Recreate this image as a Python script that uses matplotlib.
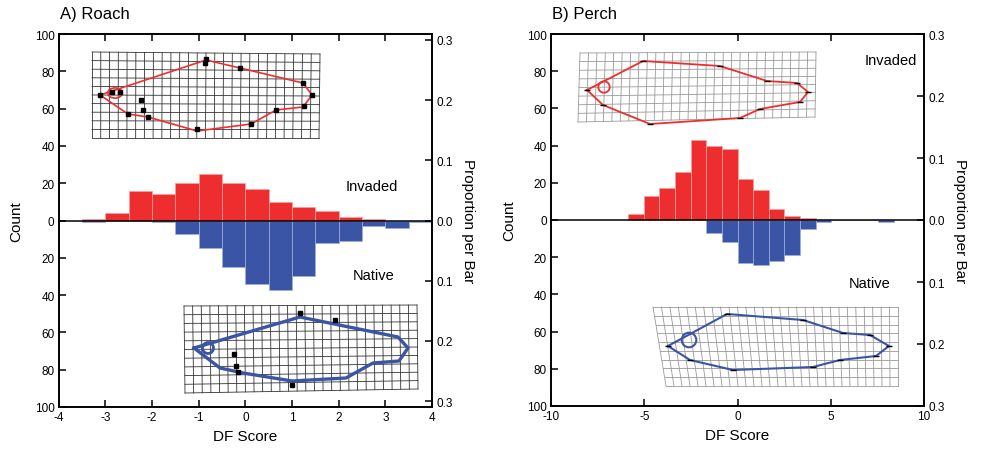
import matplotlib
matplotlib.use("Agg")
import matplotlib.pyplot as plt
import numpy as np

plt.rcParams['font.family'] = ['Liberation Sans', 'DejaVu Sans']

# ---------------- data ----------------
# Roach: bins of width 0.5 starting at -3.5
roach_bin_width = 0.5
roach_invaded_start = -3.5
roach_invaded = [1, 4, 16, 14, 20, 25, 20, 17, 10, 7, 5, 2, 1]
roach_native_start = -3.5
roach_native = [1, 0, 0, 1, 7, 15, 25, 34, 37, 30, 12, 11, 3, 4, 1]

# Perch: bins of width 0.84 with an edge at 0
perch_bin_width = 0.84
perch_invaded_start = -5.88
perch_invaded = [3, 13, 17, 26, 43, 40, 38, 22, 16, 6, 2, 1]
perch_native_start = -1.68
perch_native = [7, 12, 23, 24, 22, 19, 5, 1, 0, 0, 0, 1]

count_ticks = [-100, -80, -60, -40, -20, 0, 20, 40, 60, 80, 100]
prop_ticks = [-0.3, -0.2, -0.1, 0.0, 0.1, 0.2, 0.3]

# Deformation-grid illustrations (figure pixel coordinates)
# corners: TL, TR, BL, BR ; ncols, nrows
roach_top_grid = dict(corners=[(92, 53), (320, 55), (92, 139), (319, 139)], nx=26, ny=10, color='#333333')
roach_bot_grid = dict(corners=[(184, 307), (417, 306), (185, 394), (418, 390)], nx=27, ny=10, color='#333333')
perch_top_grid = dict(corners=[(580, 54), (816, 53), (578, 123), (815, 118)], nx=28, ny=8, color='#999999')
perch_bot_grid = dict(corners=[(653, 308), (898, 308), (666, 387), (898, 387)], nx=29, ny=9, color='#999999')

roach_top_outline_x = [100, 206, 240, 303, 312, 303, 276, 251, 197, 148, 128, 100]
roach_top_outline_y = [96, 61, 69, 84, 96, 108, 111, 125, 132, 118, 115, 96]
roach_top_marks_x = [100, 112, 120, 206, 205, 240, 303, 312, 304, 276, 251, 197, 148, 143, 141, 128]
roach_top_marks_y = [96, 93, 93, 60, 64, 69, 84, 96, 107, 111, 125, 130, 118, 111, 101, 115]
roach_top_eye = (115, 94, 6)

roach_bot_outline_x = [194, 300, 398, 408, 399, 373, 346, 292, 243, 220, 194]
roach_bot_outline_y = [349, 318, 338, 349, 362, 364, 379, 382, 374, 369, 349]
roach_bot_marks_x = [300, 335, 292, 236, 238, 234]
roach_bot_marks_y = [314, 321, 386, 367, 373, 355]
roach_bot_eye = (208, 349, 5.5)

perch_top_outline_x = [587, 643, 720, 767, 797, 808, 800, 760, 740, 650, 603, 587]
perch_top_outline_y = [91, 62, 67, 82, 84, 93, 103, 110, 119, 125, 106, 91]
perch_top_eye = (604, 88, 5.7)

perch_bot_outline_x = [668, 727, 803, 843, 870, 889, 876, 840, 813, 733, 690, 668]
perch_bot_outline_y = [347, 315, 321, 334, 336, 347, 357, 361, 368, 371, 361, 347]
perch_bot_eye = (689, 341, 7.3)

RED = '#ee2e2e'
BLUE = '#3a55a5'


def setup_panel(ax, xlim, xticks, xticklabels, total):
    ax.set_xlim(*xlim)
    ax.set_ylim(-100, 100)
    ax.set_xticks(xticks)
    ax.set_xticklabels(xticklabels)
    ax.set_yticks(count_ticks)
    ax.set_yticklabels([str(abs(t)) for t in count_ticks])
    ax.tick_params(axis='both', direction='in', length=5, width=1.1,
                   labelsize=8.5, top=True, right=False, pad=3)
    ax.axhline(0, color='black', lw=1.1, zorder=2.5)
    for s in ax.spines.values():
        s.set_linewidth(1.2)
    ax.set_xlabel('DF Score', fontsize=11, labelpad=4)
    ax.set_ylabel('Count', fontsize=11, labelpad=8)
    ax2 = ax.twinx()
    ax2.set_ylim(-100 / total, 100 / total)
    ax2.set_yticks(prop_ticks)
    ax2.set_yticklabels(['%.1f' % abs(t) for t in prop_ticks])
    ax2.tick_params(axis='y', direction='in', length=5, width=1.1, labelsize=8.5, pad=3)
    ax2.set_ylabel('Proportion per Bar', fontsize=11, rotation=270, labelpad=16)
    for s in ax2.spines.values():
        s.set_linewidth(1.2)
    return ax2


def draw_hist(ax, start, width, counts, sign, color, edge):
    counts = np.asarray(counts, dtype=float)
    lefts = start + width * np.arange(len(counts))
    ax.bar(lefts, sign * counts, width=width, align='edge', color=color,
           edgecolor=edge, linewidth=0.5, zorder=2)


def draw_grid(ov, g):
    (tlx, tly), (trx, try_), (blx, bly), (brx, bry) = g['corners']
    nx, ny = g['nx'], g['ny']
    u = np.linspace(0, 1, nx + 1)
    v = np.linspace(0, 1, ny + 1)
    for vv in v:
        xs = (1 - vv) * (tlx + (trx - tlx) * u) + vv * (blx + (brx - blx) * u)
        ys = (1 - vv) * (tly + (try_ - tly) * u) + vv * (bly + (bry - bly) * u)
        ov.plot(xs, ys, color=g['color'], lw=0.6, zorder=3)
    for uu in u:
        xs = (1 - v) * (tlx + (trx - tlx) * uu) + v * (blx + (brx - blx) * uu)
        ys = (1 - v) * (tly + (try_ - tly) * uu) + v * (bly + (bry - bly) * uu)
        ov.plot(xs, ys, color=g['color'], lw=0.6, zorder=3)


fig = plt.figure(figsize=(9.81, 4.52), dpi=100)

axA = fig.add_axes([58.7 / 981, 44 / 452, 373.3 / 981, 373 / 452])
axB = fig.add_axes([551 / 981, 45 / 452, 373 / 981, 372 / 452])

nA = sum(roach_invaded) + sum(roach_native)
nB = sum(perch_invaded) + sum(perch_native)

draw_hist(axA, roach_invaded_start, roach_bin_width, roach_invaded, 1, RED, '#f6a0a0')
draw_hist(axA, roach_native_start, roach_bin_width, roach_native, -1, BLUE, '#9fb0dc')
setup_panel(axA, (-4, 4), [-4, -3, -2, -1, 0, 1, 2, 3, 4],
            ['-4', '-3', '-2', '-1', '0', '1', '2', '3', '4'], nA)
axA.text(2.7, 18.5, 'Invaded', fontsize=10.5, ha='center', va='center')
axA.text(2.75, -29, 'Native', fontsize=10.5, ha='center', va='center')

draw_hist(axB, perch_invaded_start, perch_bin_width, perch_invaded, 1, RED, '#f6a0a0')
draw_hist(axB, perch_native_start, perch_bin_width, perch_native, -1, BLUE, '#9fb0dc')
setup_panel(axB, (-10, 10), [-10, -5, 0, 5, 10], ['-10', '-5', '0', '5', '10'], nB)
axB.text(8.2, 86, 'Invaded', fontsize=10.5, ha='center', va='center')
axB.text(7.1, -34, 'Native', fontsize=10.5, ha='center', va='center')

fig.text(60 / 981, 1 - 14 / 452, 'A) Roach', fontsize=12, ha='left', va='center')
fig.text(552 / 981, 1 - 14 / 452, 'B) Perch', fontsize=12, ha='left', va='center')

# overlay for shape illustrations
ov = fig.add_axes([0, 0, 1, 1], zorder=5)
ov.set_xlim(0, 981)
ov.set_ylim(452, 0)
ov.axis('off')
ov.patch.set_alpha(0)

for g in (roach_top_grid, roach_bot_grid, perch_top_grid, perch_bot_grid):
    draw_grid(ov, g)

ov.plot(roach_top_outline_x, roach_top_outline_y, color=RED, lw=1.2, zorder=4)
ov.plot(roach_top_marks_x, roach_top_marks_y, 's', color='black', ms=2.5, zorder=5)
ov.add_patch(matplotlib.patches.Ellipse(roach_top_eye[:2], 2.4 * roach_top_eye[2], 1.7 * roach_top_eye[2],
                                        fill=False, ec=RED, lw=1.2, zorder=4))

ov.plot(roach_bot_outline_x, roach_bot_outline_y, color=BLUE, lw=2.4, zorder=4)
ov.plot(roach_bot_marks_x, roach_bot_marks_y, 's', color='black', ms=2.5, zorder=5)
ov.add_patch(matplotlib.patches.Circle(roach_bot_eye[:2], roach_bot_eye[2], fill=False, ec=BLUE, lw=2.0, zorder=4))

ov.plot(perch_top_outline_x, perch_top_outline_y, color=RED, lw=1.3, zorder=4)
ov.plot(perch_top_outline_x[:-1], perch_top_outline_y[:-1], '_', color='black', ms=5, mew=1.0, zorder=5)
ov.add_patch(matplotlib.patches.Circle(perch_top_eye[:2], perch_top_eye[2], fill=False, ec=RED, lw=1.3, zorder=4))

ov.plot(perch_bot_outline_x, perch_bot_outline_y, color=BLUE, lw=1.5, zorder=4)
ov.plot(perch_bot_outline_x[:-1], perch_bot_outline_y[:-1], '_', color='black', ms=5, mew=1.0, zorder=5)
ov.add_patch(matplotlib.patches.Circle(perch_bot_eye[:2], perch_bot_eye[2], fill=False, ec=BLUE, lw=1.5, zorder=4))

fig.savefig('out.png', dpi=100)
